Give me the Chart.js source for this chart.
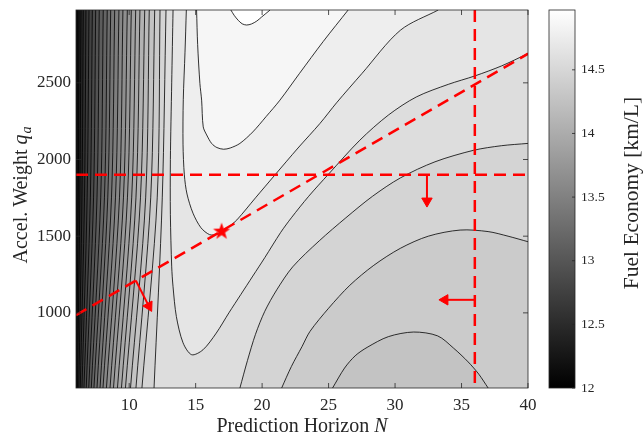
<!DOCTYPE html>
<html>
<head>
<meta charset="utf-8">
<script src="https://cdn.jsdelivr.net/npm/chart.js@4"></script>
<style>
  html, body { margin: 0; padding: 0; background: #fff; }
  canvas { display: block; }
</style>
</head>
<body>
<canvas id="contour" width="644" height="435"></canvas>
<script>
// axis limits
const nMin = 6, nMax = 40
const qMin = 510, qMax = 2975, qMid = 1750
const fuelMin = 12, fuelMax = 14.97
const baseLevel = 12.1

const xTicks = [10, 15, 20, 25, 30, 35, 40]
const yTicks = [1000, 1500, 2000, 2500]
const fuelTicks = [12, 12.5, 13, 13.5, 14, 14.5]

// near-vertical contours on the left: N where each crosses q = qMax, qMid, qMin
const leftLevels = [14.5, 14.4, 14.3, 14.2, 14.1, 14.0, 13.9, 13.8, 13.7, 13.6, 13.5, 13.4, 13.3, 13.2, 13.1, 13.0, 12.9, 12.8, 12.7, 12.6, 12.5, 12.4, 12.3, 12.2]
const leftTopN = [12.77, 12.32, 11.92, 11.51, 11.17, 10.81, 10.49, 10.16, 9.86, 9.53, 9.23, 8.91, 8.61, 8.35, 8.05, 7.75, 7.48, 7.23, 6.98, 6.75, 6.55, 6.38, 6.23, 6.10]
const leftMidN = [12.49, 12.11, 11.62, 11.24, 10.85, 10.51, 10.19, 9.87, 9.57, 9.27, 8.97, 8.67, 8.39, 8.14, 7.86, 7.58, 7.32, 7.08, 6.84, 6.64, 6.45, 6.29, 6.17, 6.06]
const leftBotN = [11.87, 10.96, 10.51, 10.10, 9.72, 9.42, 9.12, 8.82, 8.56, 8.29, 8.03, 7.81, 7.58, 7.35, 7.15, 6.96, 6.77, 6.60, 6.45, 6.32, 6.21, 6.11, 6.03, 5.96]

// right-hand branches of the 14.5 / 14.4 / 14.3 contours
const l5Right = [[18.33, 510], [18.9, 690], [19.5, 860], [20.2, 1010], [21.1, 1150], [22.3, 1300], [24.3, 1470], [26.3, 1620], [28.3, 1760], [30.4, 1880], [33, 1985], [35.9, 2060], [38, 2090], [40, 2105]]
const l6Arch = [[21.47, 510], [22.2, 650], [23, 780], [23.6, 879], [25, 1030], [26.6, 1180], [28.4, 1310], [30.4, 1421], [32.5, 1500], [34.9, 1540], [37, 1530], [38.5, 1500], [40, 1464]]
const l7Arch = [[25.3, 510], [26.2, 640], [27, 720], [27.9, 775], [29.5, 845], [31.4, 875], [33.2, 850], [34.4, 770], [35.5, 680], [36.3, 600], [37, 510]]

// U-shaped contours around the ridge
const l4Curve = [[13.3, 2975], [13.2, 2500], [13.1, 2000], [13.1, 1640], [13.2, 1300], [13.3, 1170], [13.55, 976], [14.05, 805], [14.7, 727], [15.55, 759], [16.55, 868], [17.5, 1000], [18.4, 1120], [19.3, 1240], [20.2, 1360], [21.4, 1525], [22.2, 1620], [23.5, 1760], [25, 1905], [27.35, 2126], [29.5, 2290], [31.6, 2408], [34, 2490], [36, 2545], [38, 2610], [40, 2691]]
const l3Curve = [[14.3, 2975], [14.2, 2700], [14.07, 2390], [14.05, 2100], [14.15, 1900], [14.35, 1775], [14.8, 1650], [15.4, 1555], [16.05, 1510], [16.6, 1512], [17, 1528], [17.5, 1562], [18.1, 1606], [19.5, 1750], [21, 1903], [22.7, 2075], [24.35, 2235], [25.6, 2370], [27.5, 2560], [30.4, 2843], [33.25, 2975]]
const l2Curve = [[15.07, 2975], [15.15, 2750], [15.32, 2496], [15.45, 2387], [15.57, 2213], [15.83, 2160], [16.2, 2105], [16.6, 2078], [17.1, 2067], [17.6, 2075], [18.33, 2105], [19.3, 2180], [20.3, 2280], [21.34, 2387], [22.8, 2560], [24.6, 2770], [26.47, 2975]]
const l1Curve = [[17.65, 2975], [17.9, 2940], [18.2, 2908], [18.5, 2885], [18.83, 2877], [19.2, 2884], [19.6, 2903], [19.96, 2929], [20.6, 2975]]

// red annotations
const hLine = [[6, 1900], [40, 1900]]
const vLine = [[36, 2975], [36, 510]]
const sLine = [[6, 985], [40, 2690]]
const optimum = [[16.95, 1530]]
const arrowShafts = [[[32.4, 1900], [32.4, 1729]], [[36, 1085], [33.75, 1085]], [[10.5, 1211], [11.48, 1044]]]
const arrowHeads = [[32.4, 1729], [33.75, 1085], [11.48, 1044]]
const arrowAngles = [180, 270, 152]

const font = 'Liberation Serif'
const ink = '#262626'
const red = '#ff0000'

function gray(v) {
  const t = Math.max(0, Math.min(1, (v - fuelMin) / (fuelMax - fuelMin)))
  const g = Math.round(t * 255)
  return 'rgb(' + g + ',' + g + ',' + g + ')'
}
// a band is shaded a little above its lower contour
const bandColor = lv => gray(lv + 0.07)
const pts = arr => arr.map(p => ({x: p[0], y: p[1]}))

// superlevel regions, painted from the lowest level up
const shapes = []
const strokes = []
leftLevels.forEach((lv, i) => {
  const line = [[leftTopN[i], qMax], [leftMidN[i], qMid], [leftBotN[i], qMin]]
  let rest
  if (i === 0) rest = l5Right.concat([[nMax, qMax]])
  else if (i === 1) rest = l6Arch.concat([[nMax, qMax]])
  else if (i === 2) rest = l7Arch.concat([[nMax, qMin], [nMax, qMax]])
  else rest = [[nMax, qMin], [nMax, qMax]]
  shapes.push({level: lv, path: line.concat(rest)})
  strokes.push(line)
})
strokes.push(l5Right, l6Arch, l7Arch, l4Curve, l3Curve, l2Curve, l1Curve)
shapes.push({level: 14.6, path: l4Curve.concat([[nMax, qMax]])})
shapes.push({level: 14.7, path: l3Curve})
shapes.push({level: 14.8, path: l2Curve})
shapes.push({level: 14.9, path: l1Curve})
shapes.sort((a, b) => a.level - b.level)

const datasets = []
shapes.forEach((s, k) => {
  datasets.push({
    data: pts(s.path), showLine: true, fill: 'shape',
    backgroundColor: bandColor(s.level), borderColor: 'rgba(0,0,0,0)', borderWidth: 0,
    pointRadius: 0, order: 1000 - k
  })
})
strokes.forEach(s => {
  datasets.push({
    data: pts(s), showLine: true, fill: false, borderColor: '#000', borderWidth: 0.8,
    tension: 0.3, pointRadius: 0, order: 50
  })
})
;[hLine, vLine, sLine].forEach(l => {
  datasets.push({
    data: pts(l), showLine: true, fill: false, borderColor: red, borderWidth: 2.5,
    borderDash: [12, 7], pointRadius: 0, order: 10
  })
})
arrowShafts.forEach(l => {
  datasets.push({
    data: pts(l), showLine: true, fill: false, borderColor: red, borderWidth: 2,
    pointRadius: 0, order: 10
  })
})
datasets.push({
  data: pts(arrowHeads), pointStyle: 'triangle', pointRadius: 6, rotation: arrowAngles,
  backgroundColor: red, borderColor: red, borderWidth: 1, order: 0
})

function makeStar(r) {
  const c = document.createElement('canvas')
  c.width = c.height = 2 * r + 2
  const g = c.getContext('2d')
  g.beginPath()
  for (let i = 0; i < 10; i++) {
    const rr = i % 2 ? r * 0.4 : r
    const a = -Math.PI / 2 + i * Math.PI / 5
    g.lineTo(r + 1 + rr * Math.cos(a), r + 1 + rr * Math.sin(a))
  }
  g.closePath()
  g.fillStyle = red
  g.fill()
  return c
}
datasets.push({data: pts(optimum), pointStyle: makeStar(9), pointRadius: 9, order: 0})

// background band, box with inward ticks, colorbar and titles
const frame = {
  id: 'frame',
  beforeDatasetsDraw(chart) {
    const {ctx, chartArea: a} = chart
    ctx.save()
    ctx.fillStyle = bandColor(baseLevel)
    ctx.fillRect(a.left, a.top, a.right - a.left, a.bottom - a.top)
    ctx.restore()
  },
  afterDraw(chart) {
    const {ctx, chartArea: a, scales} = chart
    ctx.save()
    ctx.strokeStyle = ink
    ctx.lineWidth = 0.8
    ctx.strokeRect(a.left, a.top, a.right - a.left, a.bottom - a.top)
    ctx.beginPath()
    xTicks.forEach(v => {
      const px = scales.x.getPixelForValue(v)
      ctx.moveTo(px, a.bottom); ctx.lineTo(px, a.bottom - 5)
      ctx.moveTo(px, a.top); ctx.lineTo(px, a.top + 5)
    })
    yTicks.forEach(v => {
      const py = scales.y.getPixelForValue(v)
      ctx.moveTo(a.left, py); ctx.lineTo(a.left + 5, py)
      ctx.moveTo(a.right, py); ctx.lineTo(a.right - 5, py)
    })
    ctx.stroke()

    // colorbar
    const cb = scales.cb
    const y0 = cb.getPixelForValue(fuelMin), y1 = cb.getPixelForValue(fuelMax)
    const x0 = 549, w = 26
    const grad = ctx.createLinearGradient(0, y0, 0, y1)
    grad.addColorStop(0, gray(fuelMin))
    grad.addColorStop(1, gray(fuelMax))
    ctx.fillStyle = grad
    ctx.fillRect(x0, y1, w, y0 - y1)
    ctx.strokeRect(x0, y1, w, y0 - y1)
    ctx.beginPath()
    fuelTicks.forEach(v => {
      const py = cb.getPixelForValue(v)
      ctx.moveTo(x0 + w, py); ctx.lineTo(x0 + w - 3, py)
    })
    ctx.stroke()

    // titles
    ctx.fillStyle = ink
    ctx.textBaseline = 'alphabetic'
    const big = '20px "' + font + '"', bigIt = 'italic 20px "' + font + '"', subIt = 'italic 14px "' + font + '"'
    // x title
    ctx.font = big
    const xa = 'Prediction Horizon '
    const wa = ctx.measureText(xa).width
    ctx.font = bigIt
    const wb = ctx.measureText('N').width
    const sx = (a.left + a.right) / 2 - (wa + wb) / 2
    ctx.font = big; ctx.fillText(xa, sx, 431.5)
    ctx.font = bigIt; ctx.fillText('N', sx + wa, 431.5)

    // y title, rotated
    ctx.save()
    ctx.translate(27, 195)
    ctx.rotate(-Math.PI / 2)
    ctx.font = big
    const ya = 'Accel. Weight '
    const w1 = ctx.measureText(ya).width
    ctx.font = bigIt
    const w2 = ctx.measureText('q').width
    ctx.font = subIt
    const w3 = ctx.measureText('a').width
    const tx = -(w1 + w2 + w3 + 1) / 2
    ctx.font = big; ctx.fillText(ya, tx, 0)
    ctx.font = bigIt; ctx.fillText('q', tx + w1, 0)
    ctx.font = subIt; ctx.fillText('a', tx + w1 + w2 + 1, 4)
    ctx.restore()

    // colorbar title, rotated
    ctx.save()
    ctx.translate(637.5, 193)
    ctx.rotate(-Math.PI / 2)
    ctx.font = '21.5px "' + font + '"'
    ctx.textAlign = 'center'
    ctx.fillText('Fuel Economy [km/L]', 0, 0)
    ctx.restore()
    ctx.restore()
  }
}

const tickFont = {family: font, size: 17}
new Chart(document.getElementById('contour'), {
  type: 'scatter',
  data: {datasets: datasets},
  options: {
    responsive: false,
    devicePixelRatio: 1,
    animation: false,
    events: [],
    layout: {padding: {top: 9, left: 0, right: 0, bottom: 0}},
    plugins: {legend: {display: false}, tooltip: {enabled: false}},
    scales: {
      x: {
        type: 'linear', position: 'bottom', min: nMin, max: nMax,
        grid: {display: false, drawTicks: false}, border: {display: false},
        ticks: {font: tickFont, color: ink, padding: 7, maxRotation: 0, autoSkip: false, callback: v => String(v)},
        afterBuildTicks: s => { s.ticks = xTicks.map(v => ({value: v})) },
        afterFit: s => { s.height = 47; s.paddingLeft = 0; s.paddingRight = 0 }
      },
      y: {
        type: 'linear', position: 'left', min: qMin, max: qMax,
        grid: {display: false, drawTicks: false}, border: {display: false},
        ticks: {font: tickFont, color: ink, padding: 5, autoSkip: false, callback: v => String(v)},
        afterBuildTicks: s => { s.ticks = yTicks.map(v => ({value: v})) },
        afterFit: s => { s.width = 76; s.paddingTop = 0; s.paddingBottom = 0 }
      },
      cb: {
        type: 'linear', axis: 'y', position: 'right', min: fuelMin, max: fuelMax,
        grid: {display: false, drawTicks: false}, border: {display: false},
        ticks: {font: {family: font, size: 13.5}, color: ink, padding: 53, autoSkip: false, callback: v => String(v)},
        afterBuildTicks: s => { s.ticks = fuelTicks.map(v => ({value: v})) },
        afterFit: s => { s.width = 116; s.paddingTop = 0; s.paddingBottom = 0 }
      }
    }
  },
  plugins: [frame]
})
</script>
</body>
</html>
